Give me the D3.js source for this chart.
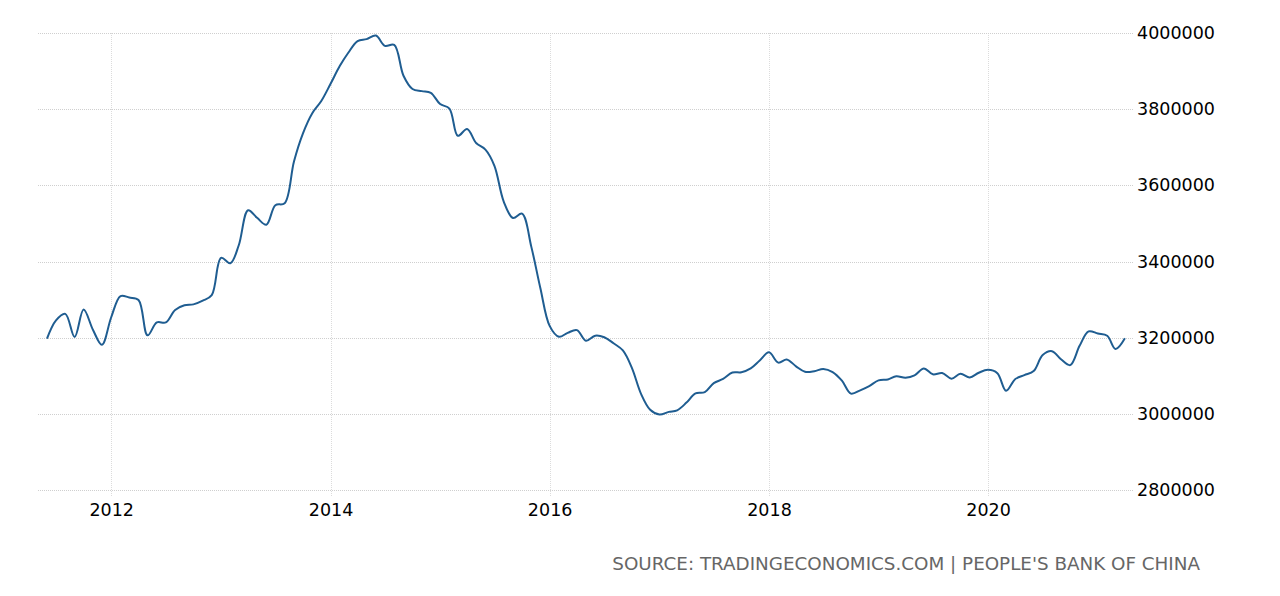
<!DOCTYPE html>
<html>
<head>
<meta charset="utf-8">
<script src="https://cdn.jsdelivr.net/npm/d3@7"></script>
<style>
    html, body { margin: 0; padding: 0; background: #fff; }
    svg { display: block; }
</style>
</head>
<body>
<svg id="svg" width="1280" height="596"></svg>
<script>
// China foreign exchange reserves, USD million, monthly Jun 2011 - Apr 2021
const startMonth = new Date(2011, 5, 1);

const reserves = [
    // 2011 Jun..Dec
    3197500, 3245300, 3262500, 3201700, 3273800, 3220900, 3181100,
    // 2012
    3253600, 3309300, 3305300, 3298800, 3206100, 3240000, 3240000, 3272900, 3285100, 3287400, 3297200, 3311600,
    // 2013
    3409500, 3395400, 3442600, 3534500, 3514800, 3496700, 3547800, 3553000, 3662700, 3736600, 3789500, 3821300,
    // 2014
    3866600, 3913700, 3948100, 3978800, 3983900, 3993200, 3966300, 3968800, 3887700, 3852900, 3847400, 3843000,
    // 2015
    3813400, 3801500, 3730000, 3748100, 3711100, 3693800, 3651300, 3557400, 3514100, 3525500, 3438400, 3330400,
    // 2016
    3230900, 3202300, 3212600, 3219700, 3191700, 3205200, 3201100, 3185200, 3166400, 3120700, 3051600, 3010500,
    // 2017
    2998200, 3005100, 3009100, 3029500, 3053600, 3056800, 3080700, 3091500, 3108500, 3109200, 3119300, 3139900,
    // 2018
    3161500, 3134500, 3142800, 3124800, 3110600, 3112100, 3117900, 3109700, 3087000, 3053100, 3061700, 3072700,
    // 2019
    3087900, 3090200, 3098800, 3095000, 3101000, 3119200, 3103700, 3107200, 3092400, 3105200, 3095600, 3107900,
    // 2020
    3115500, 3106700, 3060600, 3091500, 3101700, 3112300, 3154400, 3164600, 3142600, 3128000, 3178500, 3216500,
    // 2021 Jan..Apr
    3210700, 3204900, 3170000, 3198200
];

const yTicks = [2800000, 3000000, 3200000, 3400000, 3600000, 3800000, 4000000];
const xTickYears = [2012, 2014, 2016, 2018, 2020];
const sourceLabel = "SOURCE: TRADINGECONOMICS.COM | PEOPLE'S BANK OF CHINA";

const plot = { left: 38, right: 1133, top: 33, bottom: 490 };

const series = reserves.map((v, i) => ({
    date: d3.timeMonth.offset(startMonth, i),
    value: v
}));

const x = d3.scaleTime()
    .domain([new Date(2011, 4, 2), new Date(2021, 3, 28)])
    .range([plot.left, plot.right]);

const y = d3.scaleLinear()
    .domain([2800000, 4000000])
    .range([plot.bottom, plot.top]);

const svg = d3.select("#svg");

// vertical grid at the year ticks
svg.append("g")
    .selectAll("line")
    .data(xTickYears)
    .join("line")
    .attr("x1", d => Math.round(x(new Date(d, 0, 1))) + 0.5)
    .attr("x2", d => Math.round(x(new Date(d, 0, 1))) + 0.5)
    .attr("y1", plot.top)
    .attr("y2", plot.bottom + 7)
    .style("stroke", "#dcdcdc")
    .style("stroke-width", 1)
    .style("stroke-dasharray", "1,1");

// horizontal grid
svg.append("g")
    .selectAll("line")
    .data(yTicks)
    .join("line")
    .attr("x1", plot.left)
    .attr("x2", plot.right)
    .attr("y1", d => Math.round(y(d)) + 0.5)
    .attr("y2", d => Math.round(y(d)) + 0.5)
    .style("stroke", "#cfcfcf")
    .style("stroke-width", 1)
    .style("stroke-dasharray", "1,1");

// y axis labels, right side
const yAxis = d3.axisRight(y)
    .tickValues(yTicks)
    .tickFormat(d3.format("d"))
    .tickSize(0)
    .tickPadding(0);

svg.append("g")
    .attr("transform", "translate(" + (plot.right + 4) + ",0)")
    .call(yAxis)
    .call(g => g.select(".domain").remove())
    .selectAll("text")
    .style("font-family", "DejaVu Sans, sans-serif")
    .style("font-size", "17.5px")
    .style("fill", "#000");

// x axis labels
const xAxis = d3.axisBottom(x)
    .tickValues(xTickYears.map(yr => new Date(yr, 0, 1)))
    .tickFormat(d3.timeFormat("%Y"))
    .tickSize(0)
    .tickPadding(0);

svg.append("g")
    .attr("transform", "translate(0," + (plot.bottom + 14) + ")")
    .call(xAxis)
    .call(g => g.select(".domain").remove())
    .selectAll("text")
    .style("font-family", "DejaVu Sans, sans-serif")
    .style("font-size", "17.5px")
    .style("fill", "#000");

// the series line
const line = d3.line()
    .x(d => x(d.date))
    .y(d => y(d.value))
    .curve(d3.curveCatmullRom.alpha(0.5));

svg.append("path")
    .datum(series)
    .attr("d", line)
    .style("fill", "none")
    .style("stroke", "#1f5d91")
    .style("stroke-width", 2)
    .style("stroke-linejoin", "round");

// source note, sized to span the same width as the reference
const source = svg.append("text")
    .attr("x", 1200)
    .attr("y", 570)
    .attr("text-anchor", "end")
    .style("font-family", "DejaVu Sans, sans-serif")
    .style("font-size", "17px")
    .style("fill", "#666")
    .text(sourceLabel);

const sourceWidth = source.node().getComputedTextLength();
source.style("font-size", (17 * 588 / sourceWidth).toFixed(2) + "px");
</script>
</body>
</html>
